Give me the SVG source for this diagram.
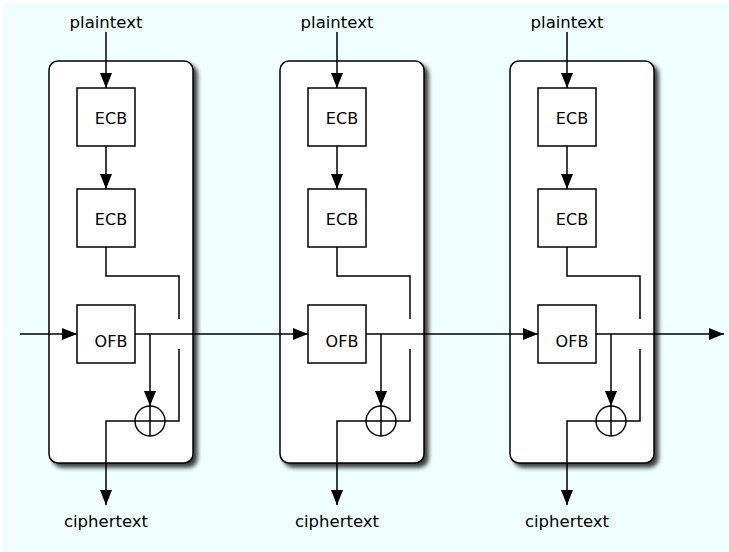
<svg xmlns="http://www.w3.org/2000/svg" width="729" height="552" viewBox="0 0 729 552">
<style>
.bg{fill:#effffe}
.panel{fill:#ffffff;stroke:#000;stroke-width:1.5}
.box{fill:#ffffff;stroke:#000;stroke-width:1.5}
.xor{fill:none;stroke:#000;stroke-width:1.4}
.ln{fill:none;stroke:#000;stroke-width:1.5}
.arr{marker-end:url(#ah)}
.lbl{font-family:"DejaVu Sans",sans-serif;font-size:16.5px;fill:#000;text-anchor:middle}
.blk{font-family:"DejaVu Sans",sans-serif;font-size:16px;fill:#000;text-anchor:middle}
</style>
<defs>
<marker id="ah" markerUnits="userSpaceOnUse" markerWidth="16" markerHeight="12" refX="15" refY="6" orient="auto">
<path d="M0,0 L15,6 L0,12 Z" fill="#000"/>
</marker>
<filter id="sh" x="-10%" y="-10%" width="130%" height="130%">
<feGaussianBlur in="SourceAlpha" stdDeviation="2.2"/>
<feOffset dx="4" dy="4" result="b"/>
<feComponentTransfer><feFuncA type="linear" slope="0.75"/></feComponentTransfer>
<feMerge><feMergeNode/><feMergeNode in="SourceGraphic"/></feMerge>
</filter>
</defs>
<rect width="729" height="552" fill="#ffffff"/>
<rect x="3" y="3" width="726" height="549" class="bg"/>

<g id="panel1">
<rect x="49" y="61" width="144" height="402" rx="9" class="panel" filter="url(#sh)"/>
</g>
<g id="panel2">
<rect x="280" y="61" width="144" height="402" rx="9" class="panel" filter="url(#sh)"/>
</g>
<g id="panel3">
<rect x="510" y="61" width="144" height="402" rx="9" class="panel" filter="url(#sh)"/>
</g>

<g id="plaintext1"><text x="106" y="28" class="lbl">plaintext</text></g>
<g id="plaintext2"><text x="337" y="28" class="lbl">plaintext</text></g>
<g id="plaintext3"><text x="567" y="28" class="lbl">plaintext</text></g>

<g id="ecb1a"><rect x="77" y="88" width="58" height="58" class="box"/><text x="111" y="124" class="blk">ECB</text></g>
<g id="ecb1b"><rect x="77" y="189" width="58" height="58" class="box"/><text x="111" y="225" class="blk">ECB</text></g>
<g id="ofb1"><rect x="77" y="305" width="58" height="58" class="box"/><text x="111" y="347" class="blk">OFB</text></g>
<g id="xor1"><circle cx="150" cy="421" r="15" class="xor"/></g>

<g id="ecb2a"><rect x="308" y="88" width="58" height="58" class="box"/><text x="342" y="124" class="blk">ECB</text></g>
<g id="ecb2b"><rect x="308" y="189" width="58" height="58" class="box"/><text x="342" y="225" class="blk">ECB</text></g>
<g id="ofb2"><rect x="308" y="305" width="58" height="58" class="box"/><text x="342" y="347" class="blk">OFB</text></g>
<g id="xor2"><circle cx="381" cy="421" r="15" class="xor"/></g>

<g id="ecb3a"><rect x="538" y="88" width="58" height="58" class="box"/><text x="572" y="124" class="blk">ECB</text></g>
<g id="ecb3b"><rect x="538" y="189" width="58" height="58" class="box"/><text x="572" y="225" class="blk">ECB</text></g>
<g id="ofb3"><rect x="538" y="305" width="58" height="58" class="box"/><text x="572" y="347" class="blk">OFB</text></g>
<g id="xor3"><circle cx="611" cy="421" r="15" class="xor"/></g>

<g id="ciphertext1"><text x="106" y="527" class="lbl">ciphertext</text></g>
<g id="ciphertext2"><text x="337" y="527" class="lbl">ciphertext</text></g>
<g id="ciphertext3"><text x="567" y="527" class="lbl">ciphertext</text></g>

<g id="connectors">
<path d="M20,334 H77" class="ln arr"/>
<path d="M135,334 H308" class="ln arr"/>
<path d="M366,334 H538" class="ln arr"/>
<path d="M596,334 H724" class="ln arr"/>

<path d="M106,32 V88" class="ln arr"/>
<path d="M106,146 V189" class="ln arr"/>
<path d="M106,247 V276 H179 V319" class="ln"/>
<path d="M179,349 V421 H106 V505" class="ln arr"/>
<path d="M150,334 V406" class="ln arr"/>
<path d="M150,406 V436" class="ln"/>

<path d="M337,32 V88" class="ln arr"/>
<path d="M337,146 V189" class="ln arr"/>
<path d="M337,247 V276 H410 V319" class="ln"/>
<path d="M410,349 V421 H337 V505" class="ln arr"/>
<path d="M381,334 V406" class="ln arr"/>
<path d="M381,406 V436" class="ln"/>

<path d="M567,32 V88" class="ln arr"/>
<path d="M567,146 V189" class="ln arr"/>
<path d="M567,247 V276 H640 V319" class="ln"/>
<path d="M640,349 V421 H567 V505" class="ln arr"/>
<path d="M611,334 V406" class="ln arr"/>
<path d="M611,406 V436" class="ln"/>
</g>
</svg>
